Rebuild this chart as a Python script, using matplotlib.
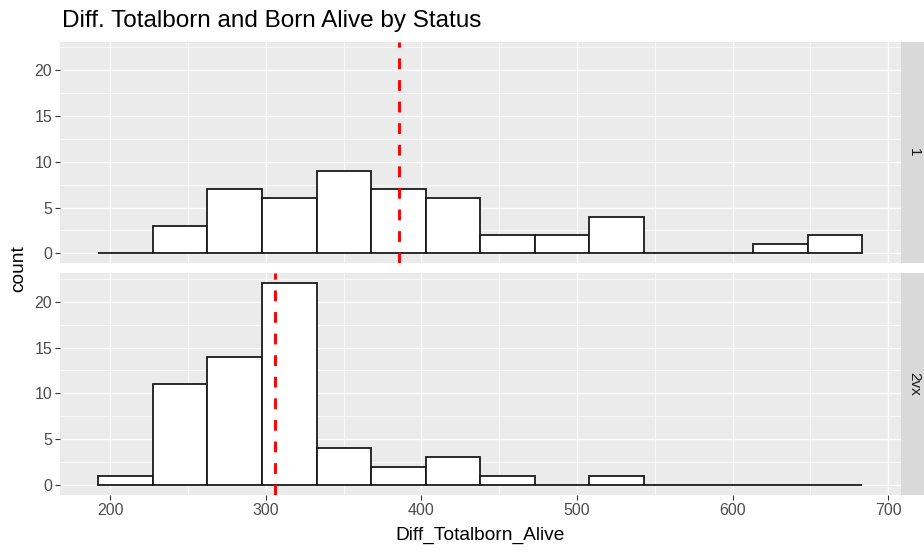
import numpy as np
import matplotlib
matplotlib.use("Agg")
import matplotlib.pyplot as plt
from matplotlib.ticker import MultipleLocator

plt.rcParams['font.family'] = ['Liberation Sans', 'DejaVu Sans']

# histogram bins and counts per facet
bin_edges = [192.2, 227.3, 262.4, 297.5, 332.6, 367.7, 402.7, 437.8,
             472.9, 508.0, 543.1, 578.2, 613.3, 648.4, 683.5]
status = ['1', '2vx']
counts_1 = [0, 3, 7, 6, 9, 7, 6, 2, 2, 4, 0, 0, 1, 2]
counts_2vx = [1, 11, 14, 22, 4, 2, 3, 1, 0, 1, 0, 0, 0, 0]
mean_1 = 385.5
mean_2vx = 305.6

x_ticks = [200, 300, 400, 500, 600, 700]
y_ticks = [0, 5, 10, 15, 20]

W, H = 924, 554
fig = plt.figure(figsize=(W / 100, H / 100), dpi=100)

def fbox(l, t, r, b):
    return [l / W, 1 - b / H, (r - l) / W, (b - t) / H]

panels = [(42, 263.3), (273.3, 495)]
data = [(counts_1, mean_1), (counts_2vx, mean_2vx)]
edges = np.array(bin_edges)

for i, ((top, bot), (counts, mean)) in enumerate(zip(panels, data)):
    ax = fig.add_axes(fbox(60, top, 900.7, bot))
    ax.set_facecolor('#EBEBEB')
    for s in ax.spines.values():
        s.set_visible(False)
    ax.set_xlim(167.6, 708.1)
    ax.set_ylim(-1.1, 23.1)
    ax.xaxis.set_major_locator(MultipleLocator(100))
    ax.xaxis.set_minor_locator(MultipleLocator(50))
    ax.yaxis.set_major_locator(MultipleLocator(5))
    ax.yaxis.set_minor_locator(MultipleLocator(2.5))
    ax.grid(True, which='major', color='white', lw=1.0)
    ax.grid(True, which='minor', color='white', lw=0.5)
    ax.set_axisbelow(True)
    ax.tick_params(which='minor', length=0)
    ax.tick_params(which='major', length=3.5, width=0.8, color='#333333',
                   labelsize=11.5, labelcolor='#4D4D4D', pad=2)
    ax.set_yticks(y_ticks)
    ax.set_xticks(x_ticks)

    ax.bar(edges[:-1], counts, width=np.diff(edges), align='edge',
           facecolor='white', edgecolor='#1a1a1a', linewidth=1.3, zorder=2)
    ax.axvline(mean, color='red', lw=2.1, linestyle=(0, (3.7, 3.7)), zorder=3)

    if i == 0:
        ax.tick_params(axis='x', which='both', bottom=False, labelbottom=False)

    # facet strip on the right
    sax = fig.add_axes(fbox(901, top, 930, bot))
    sax.set_facecolor('#D9D9D9')
    sax.set_xticks([])
    sax.set_yticks([])
    for s in sax.spines.values():
        s.set_visible(False)
    sax.text(0.45, 0.5, status[i], rotation=-90, ha='center', va='center',
             fontsize=11, color='#1A1A1A', transform=sax.transAxes)

fig.text(62 / W, 1 - 27 / H, 'Diff. Totalborn and Born Alive by Status',
         fontsize=17.5, ha='left', va='baseline')
fig.text(480.4 / W, 1 - 535.5 / H, 'Diff_Totalborn_Alive', fontsize=13.8,
         ha='center', va='center')
fig.text(18.3 / W, 1 - 268.5 / H, 'count', fontsize=13.8, rotation=90,
         ha='center', va='center')

fig.savefig('out.png', dpi=100)
